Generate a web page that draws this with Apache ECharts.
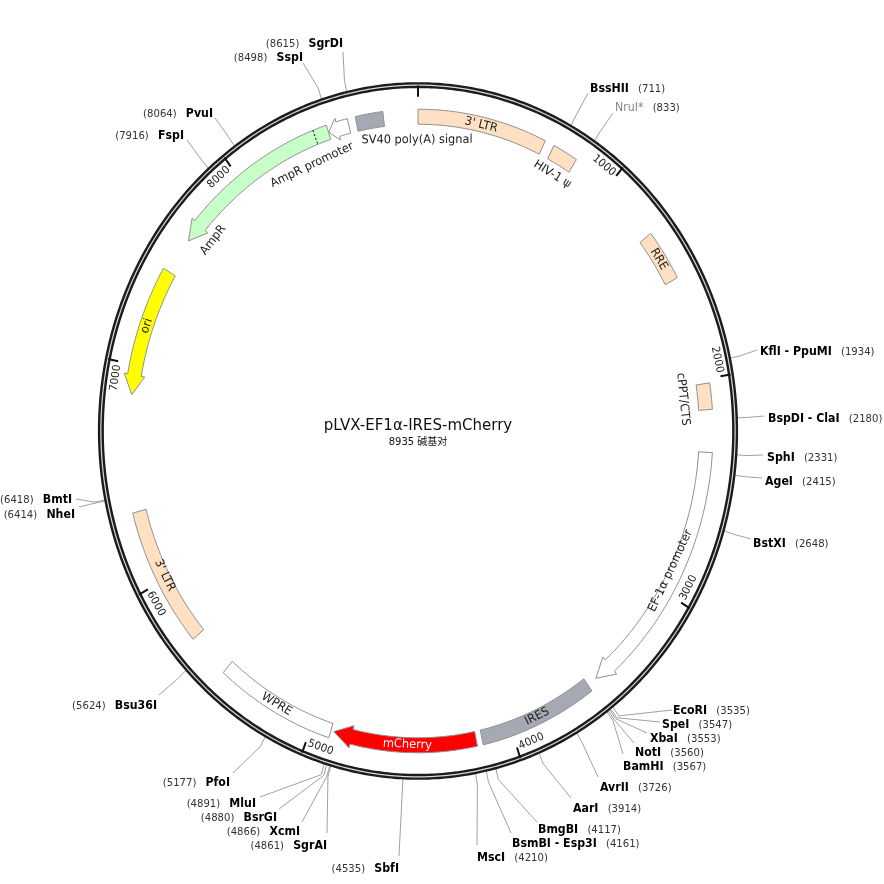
<!DOCTYPE html>
<html>
<head>
<meta charset="utf-8">
<style>html,body{margin:0;padding:0;background:#fff}#main{width:884px;height:884px}</style>
<script src="https://cdn.jsdelivr.net/npm/echarts@6/dist/echarts.min.js"></script>
</head>
<body>
<div id="main"></div>
<script>
var plasmidName = 'pLVX-EF1α-IRES-mCherry';
var totalBp = 8935;
var sizeText = '8935 碱基对';

/* features */
var featureNames = ["3' LTR", 'HIV-1 ψ', 'RRE', 'cPPT/CTS', 'EF-1α promoter', 'IRES', 'mCherry', 'WPRE', "3' LTR", 'ori', 'AmpR', 'AmpR promoter', 'SV40 poly(A) signal'];
var featureStart = [0, 681, 1293, 2020, 2330, 3571, 4179, 4904, 5700, 6866, 7625, 8487, 8630];
var featureEnd = [634, 806, 1527, 2138, 3522, 4150, 4889, 5493, 6334, 7455, 8486, 8591, 8765];
var featureDir = [0, 0, 0, 0, 1, 0, 1, 0, 0, -1, -1, -1, 0];
var signalPeptideEnd = 8417;

/* restriction sites */
var siteNames = ['BssHII', 'NruI*', 'KflI - PpuMI', 'BspDI - ClaI', 'SphI', 'AgeI', 'BstXI', 'EcoRI', 'SpeI', 'XbaI', 'NotI', 'BamHI', 'AvrII', 'AarI', 'BmgBI', 'BsmBI - Esp3I', 'MscI', 'SbfI', 'SgrAI', 'XcmI', 'BsrGI', 'MluI', 'PfoI', 'Bsu36I', 'NheI', 'BmtI', 'FspI', 'PvuI', 'SspI', 'SgrDI'];
var siteBp = [711, 833, 1934, 2180, 2331, 2415, 2648, 3535, 3547, 3553, 3560, 3567, 3726, 3914, 4117, 4161, 4210, 4535, 4861, 4866, 4880, 4891, 5177, 5624, 6414, 6418, 7916, 8064, 8498, 8615];

/* ruler */
var tickBp = [1000, 2000, 3000, 4000, 5000, 6000, 7000, 8000];

/* layout only, no data: [label x, label y, leader end x, leader end y], right aligned from SbfI on */
var siteLayout = [
    [590, 89, 588, 93], [615, 108, 613, 113], [760, 352, 757, 350], [768, 419, 764, 416], [767, 458, 763, 455],
    [765, 482, 762, 478], [753, 544, 751, 539], [673, 711, 672, 710], [662, 725, 660, 722], [650, 739, 647, 733],
    [635, 753, 634, 743], [623, 767, 623, 754], [600, 788, 598, 777], [573, 809, 571, 798], [538, 830, 537, 822],
    [512, 844, 511, 833], [477, 858, 477, 845], [399, 869, 399, 856], [327, 846, 327, 833], [300, 832, 302, 822],
    [277, 818, 279, 809], [256, 804, 260, 797], [230, 783, 233, 773], [157, 706, 159, 695], [75, 515, 79, 507],
    [72, 500, 76, 499], [184, 136, 187, 140], [213, 114, 215, 118], [303, 58, 303, 63], [343, 44, 343, 52]
];
var firstLeftSite = 17;
/* label anchor along the map: [bp, radius] */
var featureLabelAt = [
    [315, 0.899], [737, 0.847], [1410, 0.899], [2078, 0.833], [2902, 0.885], [3860, 0.899], [4520, 0.899],
    [5198, 0.899], [6016, 0.893], [7187, 0.899], [7707, 0.842], [8352, 0.831], [8930, 0.834]
];
var featureFill = ['#ffe0c2', '#ffe0c2', '#ffe0c2', '#ffe0c2', '#ffffff', '#a5a9b3', '#ff0000', '#ffffff', '#ffe0c2', '#ffff00', '#c8ffc8', '#ffffff', '#a5a9b3'];
var outerR = 0.922, innerR = 0.879;
var fontName = '"DejaVu Sans", sans-serif';

function polar(api, bp, r) {
    var a = bp / totalBp * Math.PI * 2;
    return api.coord([r * Math.sin(a), r * Math.cos(a)]);
}
/* text angle follows the ring, flipped on the lower half so it stays readable */
function textAngle(api, bp) {
    var p1 = polar(api, bp - 5, 0.9), p2 = polar(api, bp + 5, 0.9);
    var ang = Math.atan2(p1[1] - p2[1], p2[0] - p1[0]);
    if (Math.cos(bp / totalBp * Math.PI * 2) < 0) ang += Math.PI;
    return ang;
}
function arcPoints(api, from, to, r) {
    var pts = [], n = Math.max(2, Math.ceil(Math.abs(to - from) / 15));
    for (var i = 0; i <= n; i++) pts.push(polar(api, from + (to - from) * i / n, r));
    return pts;
}

function renderRing(params, api) {
    var pts = arcPoints(api, 0, totalBp, 0.991);
    return {
        type: 'group',
        children: [
            { type: 'polyline', shape: { points: pts }, style: { fill: null, stroke: '#1c1c1c', lineWidth: 6 } },
            { type: 'polyline', shape: { points: pts }, style: { fill: null, stroke: '#d8d8d8', lineWidth: 1.2 } }
        ]
    };
}

function renderFeature(params, api) {
    var i = params.dataIndex;
    var s = featureStart[i], e = featureEnd[i], d = featureDir[i];
    var pts;
    if (d === 0) {
        pts = arcPoints(api, s, e, outerR).concat(arcPoints(api, e, s, innerR));
    } else {
        var tail = d > 0 ? s : e, tip = d > 0 ? e : s;
        var head = Math.min(90, (e - s) * 0.45);
        var neck = tip - d * head;
        pts = arcPoints(api, tail, neck, outerR);
        pts.push(polar(api, neck, outerR + 0.011));
        pts.push(polar(api, tip, (outerR + innerR) / 2));
        pts.push(polar(api, neck, innerR - 0.011));
        pts = pts.concat(arcPoints(api, neck, tail, innerR));
    }
    var children = [{
        type: 'polygon',
        shape: { points: pts },
        style: { fill: featureFill[i], stroke: '#8f8f8f', lineWidth: 1 }
    }];
    if (featureNames[i] === 'AmpR') {
        children.push({
            type: 'line',
            shape: {
                x1: polar(api, signalPeptideEnd, outerR)[0], y1: polar(api, signalPeptideEnd, outerR)[1],
                x2: polar(api, signalPeptideEnd, innerR)[0], y2: polar(api, signalPeptideEnd, innerR)[1]
            },
            style: { stroke: '#000', lineWidth: 1, lineDash: [2, 2] }
        });
    }
    var at = featureLabelAt[i], p = polar(api, at[0], at[1]);
    children.push({
        type: 'text',
        x: p[0], y: p[1],
        rotation: textAngle(api, at[0]),
        scaleX: 0.95,
        style: {
            text: featureNames[i],
            align: 'center', verticalAlign: 'middle',
            font: '12px ' + fontName,
            fill: featureNames[i] === 'mCherry' ? '#fff' : '#222'
        }
    });
    return { type: 'group', children: children };
}

function renderTick(params, api) {
    var bp = api.value(0);
    var p1 = polar(api, bp, 0.99), p2 = polar(api, bp, 0.958);
    var children = [{
        type: 'line',
        shape: { x1: p1[0], y1: p1[1], x2: p2[0], y2: p2[1] },
        style: { stroke: '#111', lineWidth: 2 }
    }];
    if (bp > 0) {
        var t = polar(api, bp - 72, 0.957);
        children.push({
            type: 'text',
            x: t[0], y: t[1],
            rotation: textAngle(api, bp - 72),
            scaleX: 0.95,
            style: { text: String(bp), align: 'center', verticalAlign: 'middle', font: '11px ' + fontName, fill: '#222' }
        });
    }
    return { type: 'group', children: children };
}

function renderSite(params, api) {
    var i = params.dataIndex, bp = siteBp[i], lay = siteLayout[i];
    var left = i >= firstLeftSite;
    var nameColor = siteNames[i] === 'NruI*' ? '#888' : '#000';
    var txt = left ? '{p|(' + bp + ')}   {n|' + siteNames[i] + '}' : '{n|' + siteNames[i] + '}   {p|(' + bp + ')}';
    return {
        type: 'group',
        children: [{
            type: 'polyline',
            shape: { points: [polar(api, bp, 0.998), polar(api, bp, 1.03), [lay[2], lay[3]]] },
            style: { fill: null, stroke: '#a0a0a0', lineWidth: 1 }
        }, {
            type: 'text',
            x: lay[0], y: lay[1],
            scaleX: 0.917,
            style: {
                text: txt,
                align: left ? 'right' : 'left', verticalAlign: 'middle',
                rich: {
                    n: { font: (siteNames[i] === 'NruI*' ? '' : 'bold ') + '12px ' + fontName, fill: nameColor },
                    p: { font: '11px ' + fontName, fill: '#333' }
                }
            }
        }]
    };
}

var myChart = echarts.init(document.getElementById('main'));
myChart.setOption({
    animation: false,
    title: {
        text: plasmidName,
        subtext: sizeText,
        left: 418,
        top: 419,
        textAlign: 'center',
        itemGap: 3,
        padding: 0,
        textStyle: { fontFamily: fontName, fontSize: 15, fontWeight: 'normal', color: '#111' },
        subtextStyle: { fontFamily: '"DejaVu Sans", "Noto Sans CJK SC", sans-serif', fontSize: 10, color: '#111' }
    },
    grid: { left: 98, top: 82, width: 640, height: 698 },
    xAxis: { type: 'value', min: -1, max: 1, show: false },
    yAxis: { type: 'value', min: -1, max: 1, show: false },
    series: [
        { type: 'custom', silent: true, coordinateSystem: 'cartesian2d', data: [[0, 0]], renderItem: renderRing },
        { type: 'custom', silent: true, coordinateSystem: 'cartesian2d', data: siteBp.map(function (v, i) { return [v, i]; }), renderItem: renderSite, z: 1 },
        { type: 'custom', silent: true, coordinateSystem: 'cartesian2d', data: [0].concat(tickBp).map(function (v) { return [v, 0]; }), renderItem: renderTick, z: 3 },
        { type: 'custom', silent: true, coordinateSystem: 'cartesian2d', data: featureStart.map(function (v, i) { return [v, i]; }), renderItem: renderFeature, z: 4 }
    ]
});
</script>
</body>
</html>
